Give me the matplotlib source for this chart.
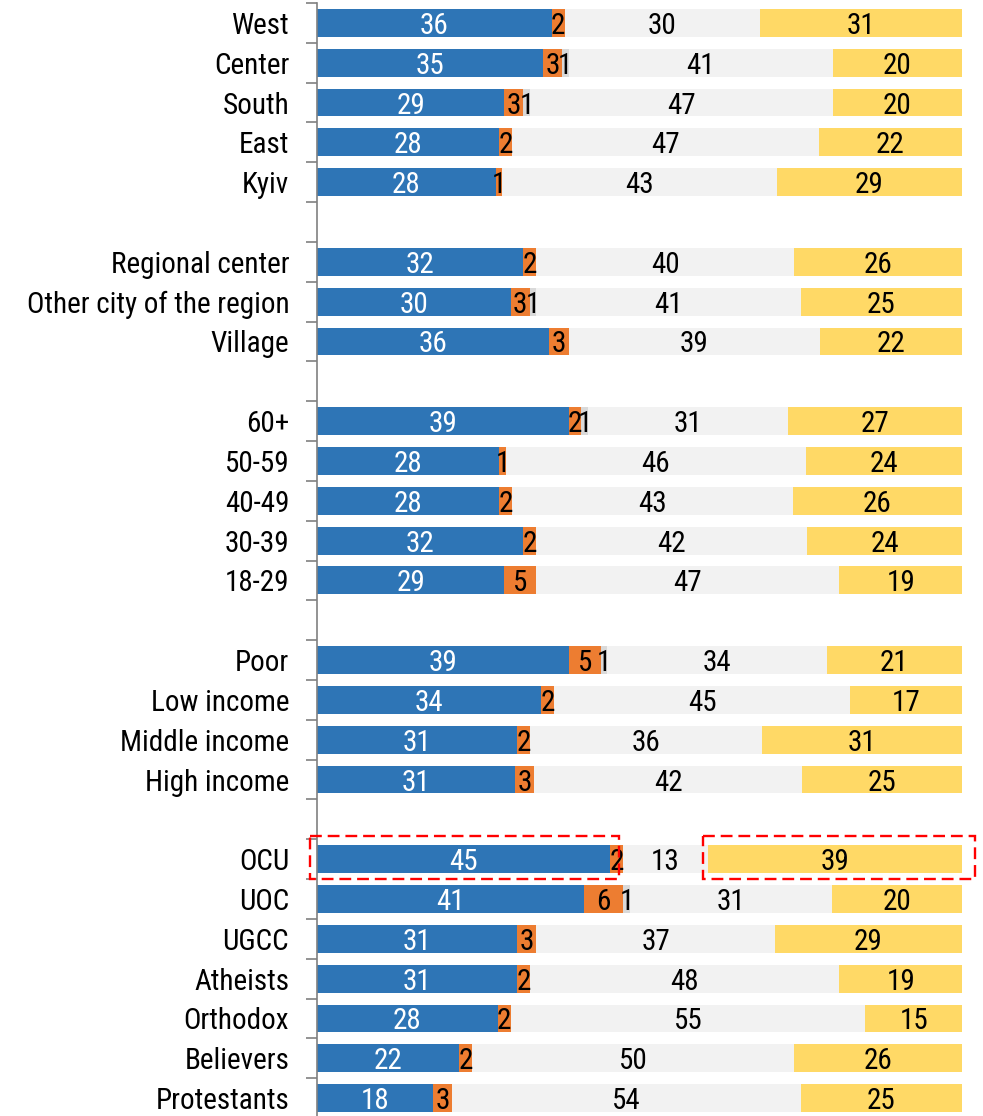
import matplotlib
matplotlib.use("Agg")
import matplotlib.pyplot as plt
from matplotlib.patches import Rectangle
from matplotlib import font_manager
import numpy as np

names = {f.name for f in font_manager.fontManager.ttflist}
FONT = "Roboto Condensed" if "Roboto Condensed" in names else "DejaVu Sans"
plt.rcParams["font.family"] = [FONT, "DejaVu Sans"]

categories = [
    "West", "Center", "South", "East", "Kyiv", "",
    "Regional center", "Other city of the region", "Village", "",
    "60+", "50-59", "40-49", "30-39", "18-29", "",
    "Poor", "Low income", "Middle income", "High income", "",
    "OCU", "UOC", "UGCC", "Atheists", "Orthodox", "Believers", "Protestants",
]

blue = [36, 35, 29, 28, 28, None, 32, 30, 36, None, 39, 28, 28, 32, 29, None,
        39, 34, 31, 31, None, 45, 41, 31, 31, 28, 22, 18]
orange = [2, 3, 3, 2, 1, None, 2, 3, 3, None, 2, 1, 2, 2, 5, None,
          5, 2, 2, 3, None, 2, 6, 3, 2, 2, 2, 3]
small_grey = [0, 1, 1, 0, 0, None, 0, 1, 0, None, 1, 0, 0, 0, 0, None,
              1, 0, 0, 0, None, 0, 1, 0, 0, 0, 0, 0]
light_grey = [30, 41, 47, 47, 43, None, 40, 41, 39, None, 31, 46, 43, 42, 47, None,
              34, 45, 36, 42, None, 13, 31, 37, 48, 55, 50, 54]
yellow = [31, 20, 20, 22, 29, None, 26, 25, 22, None, 27, 24, 26, 24, 19, None,
          21, 17, 31, 25, None, 39, 20, 29, 19, 15, 26, 25]

series = [blue, orange, small_grey, light_grey, yellow]
colors = ["#2E75B6", "#ED7D31", "#D9D9D9", "#F2F2F2", "#FFD966"]
text_colors = ["white", "black", "black", "black", "black"]

fig = plt.figure(figsize=(9.83, 11.16), dpi=100)
ax = fig.add_axes([317 / 983, -2 / 1116, 645 / 983, 1115 / 1116])

n = len(categories)
y = np.arange(n)
bar_h = 0.7
fs = 21

for i in range(n):
    if blue[i] is None:
        continue
    vals = [s[i] for s in series]
    total = sum(vals)
    left = 0.0
    for v, c, tc in zip(vals, colors, text_colors):
        w = v / total * 100.0
        if v > 0:
            ax.barh(y[i], w, left=left, height=bar_h, color=c, edgecolor="none")
            ax.text(left + w / 2, y[i], str(v), ha="center",
                    va="center_baseline", color=tc, fontsize=fs)
        left += w

ax.set_xlim(0, 100)
ax.set_ylim(n - 0.5, -0.5)

ax.set_yticks(y)
ax.set_yticklabels(categories, fontsize=fs, va="center_baseline")
ax.tick_params(axis="y", which="major", length=0, pad=20)
ax.set_yticks(np.arange(-0.5, n, 1.0), minor=True)
ax.tick_params(axis="y", which="minor", length=8, width=1.2, color="#808080",
               direction="out")
ax.set_xticks([])

for side in ("top", "right", "bottom"):
    ax.spines[side].set_visible(False)
ax.spines["left"].set_color("#808080")
ax.spines["left"].set_linewidth(1.2)

# highlight boxes on the OCU row
ocu = categories.index("OCU")
box_kw = dict(fill=False, edgecolor="#FF0000", linestyle=(0, (5, 2.5)),
              linewidth=1.7, clip_on=False, zorder=5)
ax.add_patch(Rectangle((-1.1, ocu - 0.58), 47.9, 1.08, **box_kw))
ax.add_patch(Rectangle((59.8, ocu - 0.58), 42.2, 1.08, **box_kw))

fig.savefig("out.png", dpi=100)
